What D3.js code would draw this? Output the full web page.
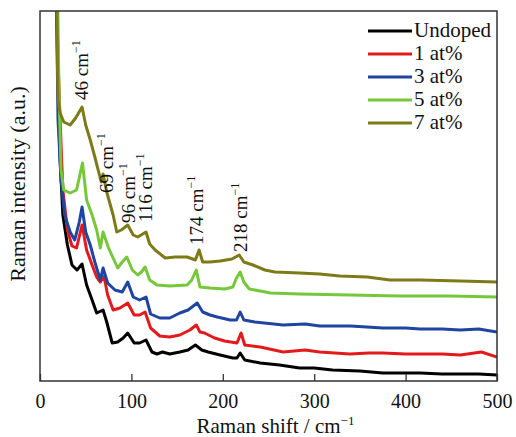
<!DOCTYPE html>
<html>
<head>
<meta charset="utf-8">
<script src="https://cdn.jsdelivr.net/npm/d3@7"></script>
<style>
  body { margin: 0; background: #fff; }
</style>
</head>
<body>
<div id="chart"></div>
<script>
// Raman spectra, [shift (cm-1), intensity (a.u.)]
var undoped = [[17.5,421],[19.7,291],[22,221],[25,166],[30,136],[35,116],[40.5,111],[46,117],[51,96],[57,81],[62,68],[69,71],[73,59],[79,38],[85,39],[91,43],[96,48],[103,38],[109,38],[116,41],[122.5,29],[128,27],[134,29],[142,27],[153,29],[162,31],[170,36],[177,31],[184,29],[197,26],[211,23],[215.5,23],[219,28],[224,21],[241,18],[262,16],[284,13],[300,13],[320,11],[350,10],[375,8],[400,8],[416,8],[440,7],[460,7],[480,7],[500,6]];
var at1 = [[17.5,421],[19.7,321],[22,261],[25,191],[30,151],[35,135],[40,133],[46,156],[51,131],[57,116],[62,104],[66,99],[70,105],[74,86],[80,71],[87.5,73],[96,78],[103,66],[109,66],[115,69],[121,53],[131,45],[142,44],[153,46],[164,51],[171,56],[175,49],[180,48],[191,43],[202,40],[215.5,38],[220,48],[224,36],[241,34],[266,29],[290,31],[306,29],[339,27],[360,28],[375,28],[400,27],[416,27],[440,27],[460,26],[483,29],[500,24]];
var at3 = [[17.5,421],[19.7,261],[23,201],[27,166],[33,149],[38,141],[43,159],[46,174],[50,149],[55,136],[60,119],[66,101],[69,113],[74,98],[82,91],[90,89],[96,99],[102,84],[109,81],[116,84],[121,67],[131,63],[142,63],[153,68],[162,71],[172,78],[178,69],[186,66],[194,64],[208,61],[215,61],[219,69],[223,61],[235,59],[266,56],[290,57],[306,55],[340,55],[375,53],[400,53],[416,52],[440,52],[460,51],[480,52],[500,49]];
var at5 = [[17.5,421],[19.5,370],[21,281],[23,211],[26,191],[33,188],[40,191],[46.5,218],[51,181],[57,166],[62,151],[66,133],[69,149],[75,133],[80,123],[85,113],[90,119],[95,124],[101,111],[107,106],[111,109],[115,114],[120,101],[128,96],[142,95],[161,96],[166,101],[171,111],[175,94],[186,93],[202,92],[211,94],[215,103],[219,109],[223,99],[229,92],[241,90],[252,88],[284,87],[339,86],[394,85],[449,85],[500,84]];
var at7 = [[17.5,421],[18.6,370],[19,321],[19.7,281],[22,268],[26,259],[33,256],[39,263],[46,274],[50,256],[55,241],[60,224],[67,199],[69,207],[73,189],[80,166],[84,149],[89,151],[96,156],[102,146],[107,144],[116,149],[120,137],[126,131],[137,123],[148,124],[161,124],[170,121],[174,131],[178,119],[186,119],[197,120],[210,122],[218,126],[223,119],[233,116],[246,111],[257,109],[284,108],[306,107],[328,105],[358,104],[383,101],[416,101],[460,100],[500,99]];

var seriesNames = ["Undoped", "1 at%", "3 at%", "5 at%", "7 at%"];
var seriesData = [undoped, at1, at3, at5, at7];
var seriesColors = ["#000000", "#e31a1c", "#1f45a0", "#76c73a", "#7d7a18"];

var peaks = [46, 69, 96, 116, 174, 218];
var xTicks = [0, 100, 200, 300, 400, 500];

// label placement next to each peak: [dx from peak, intensity level where the text starts]
var peakLabelPos = [[6, 281], [10, 188], [7, 158], [6, 159], [4, 136], [8, 129]];

var font = "Liberation Serif";
var width = 516, height = 437;
var margin = {top: 11, right: 19, bottom: 56, left: 40};
var w = width - margin.left - margin.right, h = height - margin.top - margin.bottom;

var svg = d3.select("#chart").append("svg").attr("width", width).attr("height", height)
  .style("font-family", font);
var g = svg.append("g").attr("transform", "translate(" + margin.left + "," + margin.top + ")");

var x = d3.scaleLinear().domain([0, 500]).range([0, w]);
var y = d3.scaleLinear().domain([0, 370]).range([h, 0]);

g.append("defs").append("clipPath").attr("id", "plotclip")
  .append("rect").attr("width", w).attr("height", h);

var line = d3.line().x(function(d) { return x(d[0]); }).y(function(d) { return y(d[1]); });

g.append("g").attr("clip-path", "url(#plotclip)")
  .selectAll("path").data(seriesData).enter().append("path")
  .attr("d", line)
  .attr("fill", "none")
  .attr("stroke", function(d, i) { return seriesColors[i]; })
  .attr("stroke-width", 3)
  .attr("stroke-linejoin", "round");

// frame
g.append("rect").attr("width", w).attr("height", h)
  .attr("fill", "none").attr("stroke", "#333").attr("stroke-width", 1.5);

// x axis, ticks pointing inward
var xAxis = g.append("g").attr("transform", "translate(0," + h + ")")
  .call(d3.axisBottom(x).tickValues(xTicks).tickSizeInner(-7).tickSizeOuter(0).tickPadding(13));
xAxis.attr("font-family", null).attr("font-size", 20);
xAxis.select(".domain").remove();
xAxis.selectAll("line").attr("stroke", "#333").attr("stroke-width", 1.3);
xAxis.selectAll("text").attr("fill", "#111");

// axis titles
var xt = svg.append("text").attr("x", margin.left + w / 2 + 7).attr("y", 433)
  .attr("text-anchor", "middle").attr("font-size", 21).attr("fill", "#111");
xt.append("tspan").text("Raman shift / cm");
xt.append("tspan").text("\u22121").attr("font-size", 13).attr("dy", -8);

svg.append("text").attr("transform", "translate(25,184) rotate(-90)")
  .attr("text-anchor", "middle").attr("font-size", 22).attr("fill", "#111")
  .text("Raman intensity (a.u.)");

// peak labels
peaks.forEach(function(p, i) {
  var px = x(p) + peakLabelPos[i][0], py = y(peakLabelPos[i][1]);
  var t = g.append("text").attr("transform", "translate(" + px + "," + py + ") rotate(-90)")
    .attr("font-size", 19).attr("fill", "#111");
  t.append("tspan").text(p + " cm");
  t.append("tspan").text("\u22121").attr("font-size", 12).attr("dy", -8);
});

// legend
var legend = svg.append("g").selectAll("g").data(seriesNames).enter().append("g")
  .attr("transform", function(d, i) { return "translate(368," + (31 + i * 23) + ")"; });
legend.append("line").attr("x1", 0).attr("x2", 44)
  .attr("stroke", function(d, i) { return seriesColors[i]; }).attr("stroke-width", 3);
legend.append("text").attr("x", 46).attr("y", 6).attr("font-size", 21).attr("fill", "#111")
  .text(function(d) { return d; });
</script>
</body>
</html>
